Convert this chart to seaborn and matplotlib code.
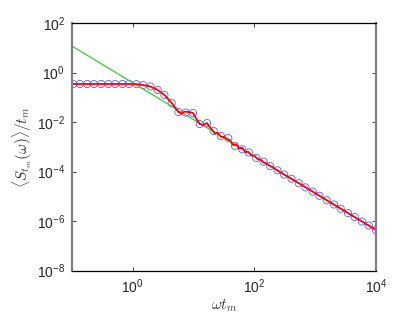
import numpy as np
import matplotlib
matplotlib.use("Agg")
import matplotlib.pyplot as plt
import seaborn as sns

circ_logx = [-0.98, -0.87, -0.75, -0.64, -0.52, -0.40, -0.29, -0.17, -0.06, 0.06,
             0.17, 0.29, 0.41, 0.52, 0.64, 0.75, 0.87, 0.99, 1.10, 1.22,
             1.33, 1.45, 1.57, 1.68, 1.80, 1.91, 2.03, 2.15, 2.26, 2.38,
             2.49, 2.61, 2.73, 2.84, 2.96, 3.07, 3.19, 3.31, 3.42, 3.54,
             3.65, 3.77, 3.88, 4.00]
circ_logy = [-0.464, -0.464, -0.464, -0.464, -0.464, -0.464, -0.464, -0.464, -0.464, -0.47,
             -0.505, -0.565, -0.707, -0.909, -1.232, -1.595, -1.616, -1.636, -2.080, -2.040,
             -2.363, -2.565, -2.646, -2.969, -3.10, -3.23, -3.45, -3.60, -3.78, -3.95,
             -4.12, -4.29, -4.47, -4.64, -4.81, -4.98, -5.16, -5.33, -5.50, -5.68,
             -5.84, -6.02, -6.18, -6.36]

# full curve (red), log10 values
red_logx = [-1.00, -0.52, -0.06, 0.06, 0.17, 0.29, 0.41, 0.52, 0.64, 0.75,
            0.80, 0.85, 0.93, 0.99, 1.04, 1.10, 1.16, 1.22, 1.25, 1.30,
            1.35, 1.40, 1.45, 1.50, 1.55, 1.60, 1.65, 1.70, 1.75, 1.80,
            1.85, 1.90, 1.95, 2.00, 2.05, 2.10, 2.15, 2.20, 2.25, 2.30,
            2.35, 2.49, 2.73, 2.96, 3.19, 3.42, 3.65, 3.88, 4.00]
red_logy = [-0.464, -0.464, -0.464, -0.47, -0.505, -0.565, -0.707, -0.909, -1.232, -1.595,
            -1.66, -1.58, -1.60, -1.636, -1.85, -2.08, -2.12, -2.04, -2.15, -2.30,
            -2.46, -2.44, -2.60, -2.60, -2.68, -2.74, -2.93, -2.90, -3.07, -3.04,
            -3.21, -3.20, -3.35, -3.36, -3.49, -3.52, -3.63, -3.67, -3.77, -3.82,
            -3.91, -4.12, -4.47, -4.81, -5.16, -5.50, -5.84, -6.18, -6.36]

# power-law guide (green)
fit_logx = [-1.0, 4.0]
fit_logy = [1.07, -6.36]

sns.set_style("ticks")
plt.rcParams["font.family"] = ["Liberation Sans", "DejaVu Sans"]

fig = plt.figure(figsize=(4.15, 3.13), dpi=100)
ax = fig.add_axes([0.1735, 0.1355, 0.7325, 0.791])

sns.lineplot(x=10 ** np.array(fit_logx), y=10 ** np.array(fit_logy), color="#33cc33",
             lw=0.9, estimator=None, sort=False, ax=ax)
sns.lineplot(x=10 ** np.array(red_logx), y=10 ** np.array(red_logy), color="red",
             lw=1.3, estimator=None, sort=False, ax=ax)
sns.scatterplot(x=10 ** np.array(circ_logx), y=10 ** np.array(circ_logy), marker="o",
                s=27, facecolor="none", edgecolor="#5c5cff", linewidth=0.6, ax=ax)

ax.set_xscale("log")
ax.set_yscale("log")
ax.set_xlim(0.1, 1e4)
ax.set_ylim(1e-8, 1e2)
ax.set_xticks([1, 1e2, 1e4])
ax.set_yticks([1e-8, 1e-6, 1e-4, 1e-2, 1, 1e2])
ax.minorticks_off()
ax.tick_params(direction="in", top=True, right=True, length=3, width=0.6,
               labelsize=10, pad=5)

for side in ["left", "right"]:
    ax.spines[side].set_color("#808080")
    ax.spines[side].set_linewidth(1.6)
for side in ["top", "bottom"]:
    ax.spines[side].set_color("black")
    ax.spines[side].set_linewidth(0.9)

ax.set_xlabel(r"$\omega t_m$", fontsize=11, math_fontfamily="cm", labelpad=1,
              color="#333333")
ax.set_ylabel(r"$\langle S_{t_m}(\omega)\rangle/t_m$", fontsize=11,
              math_fontfamily="cm", labelpad=2, color="#333333")

fig.savefig("out.png", dpi=100)
